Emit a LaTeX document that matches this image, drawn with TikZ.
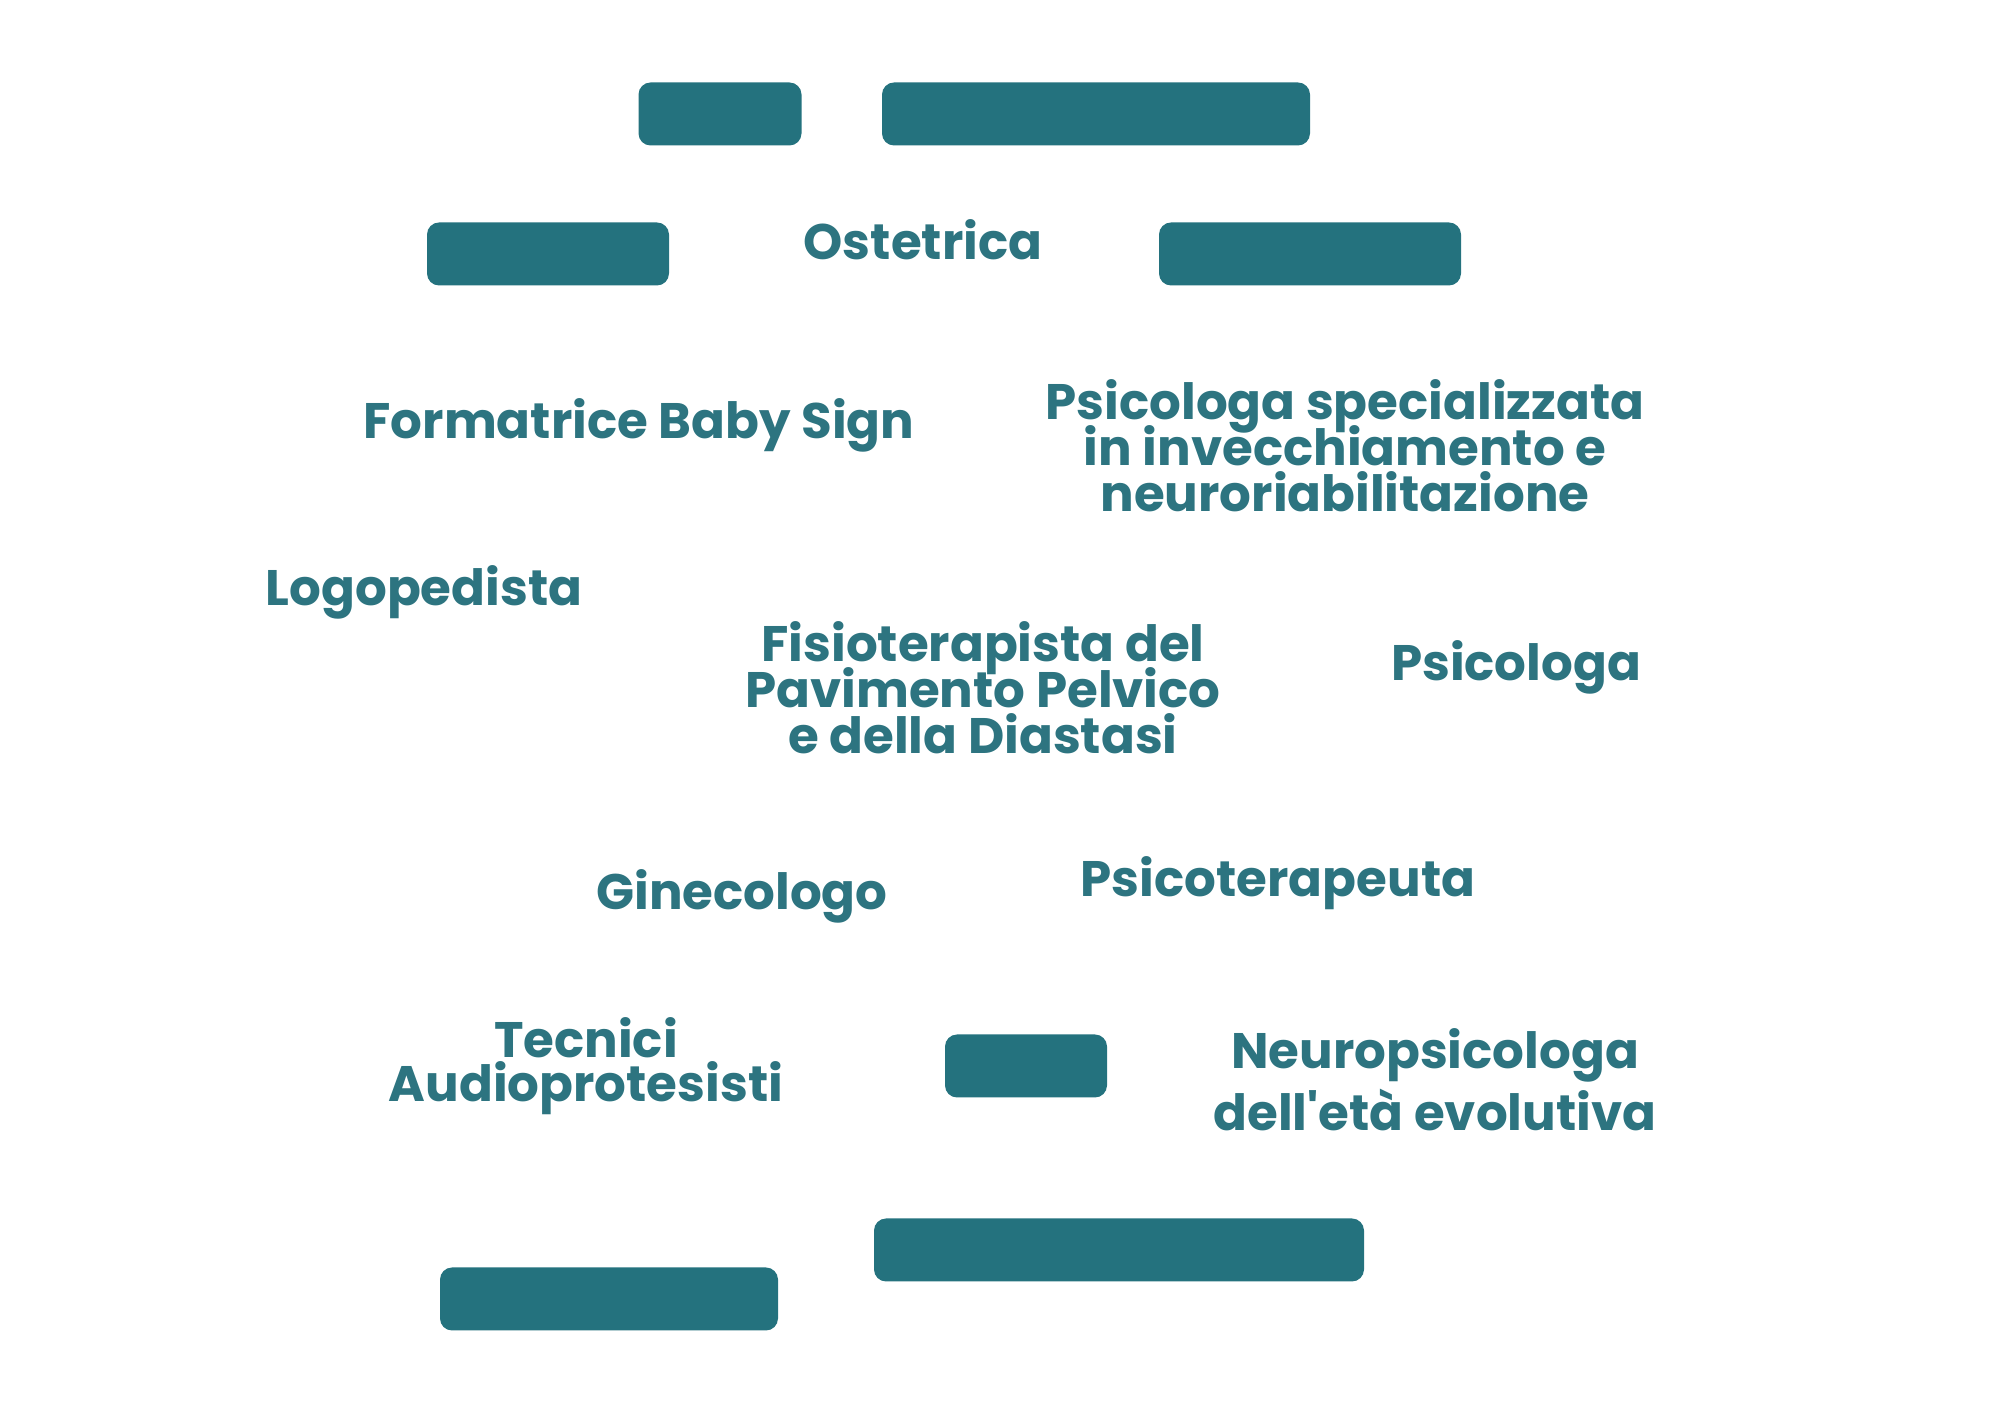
\documentclass[tikz,border=0pt]{standalone}
\usepackage{fontspec}
\setmainfont{Poppins}
\usetikzlibrary{positioning}
\definecolor{teal1}{HTML}{24727E}
\definecolor{teal2}{HTML}{2D7480}
\newcommand{\rolefont}[1]{\fontsize{14.2}{#1}\selectfont\bfseries\lineskiplimit=-30pt}

\begin{document}
\begin{tikzpicture}[x=0.1mm,y=-0.1mm]
  \tikzstyle{slot}=[rectangle,rounded corners=1.2mm,fill=teal1,draw=none,inner sep=0pt,minimum height=6.3mm]
  \tikzstyle{role}=[text=teal2,font=\rolefont{13.2},align=center,inner sep=0pt,anchor=base]
  \useasboundingbox (0,0) rectangle (2000,1414);

  % Empty slots.
  \node [slot,minimum width=16.3mm] (s1) at (720,114) {};
  \node [slot,minimum width=42.8mm] (s2) at (1096,114) {};
  \node [slot,minimum width=24.2mm] (s3) at (548,254) {};
  \node [slot,minimum width=30.2mm] (s4) at (1310,254) {};
  \node [slot,minimum width=16.2mm] (s5) at (1026,1066) {};
  \node [slot,minimum width=49.0mm] (s6) at (1119,1250) {};
  \node [slot,minimum width=33.8mm] (s7) at (609,1299) {};

  % Roles (multi-line ones sit on their last line).
  \node [role] (ost) at (923,260) {Ostetrica};
  \node [role] (baby) at (639,439) {Formatrice Baby Sign};
  \node [role] (psispec) at (1345,512) {Psicologa specializzata\\in invecchiamento e\\neuroriabilitazione};
  \node [role] (logo) at (424,606) {Logopedista};
  \node [role] (fisio) at (983,754) {Fisioterapista del\\Pavimento Pelvico\\e della Diastasi};
  \node [role] (psi) at (1516,681) {Psicologa};
  \node [role] (gine) at (742,910) {Ginecologo};
  \node [role] (psiter) at (1278,897) {Psicoterapeuta};
  \node [role,font=\rolefont{12.6}] (tec) at (586,1102) {Tecnici\\Audioprotesisti};
  \node [role,font=\rolefont{17.9}] (neuro) at (1435,1131) {Neuropsicologa\\dell\textquotesingle età evolutiva};
\end{tikzpicture}
\end{document}
